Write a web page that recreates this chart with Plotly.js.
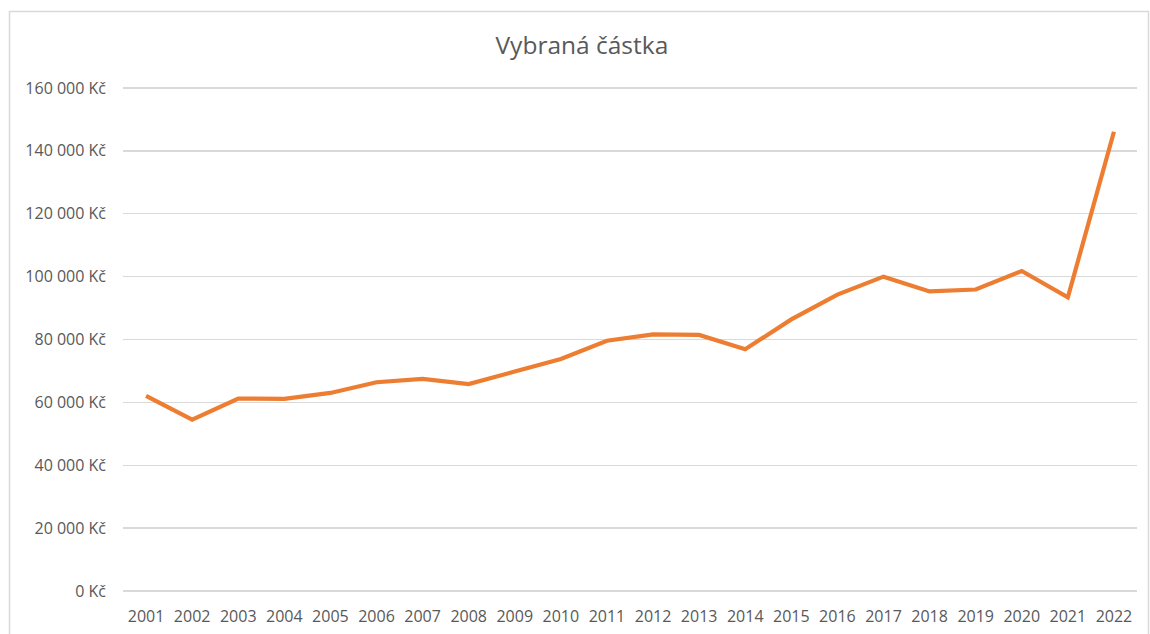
<!DOCTYPE html>
<html>
<head>
<meta charset="utf-8">
<script src="https://cdn.plot.ly/plotly-3.0.1.min.js"></script>
<style>
html,body{margin:0;padding:0;background:#fff;}
#chart{width:1150px;height:634px;}
</style>
</head>
<body>
<div id="chart"></div>
<script>
var years = ["2001","2002","2003","2004","2005","2006","2007","2008","2009","2010","2011","2012","2013","2014","2015","2016","2017","2018","2019","2020","2021","2022"];
var amounts = [62100,54500,61200,61100,63000,66400,67500,65800,69800,73800,79600,81600,81450,76900,86400,94300,100000,95300,95900,101800,93400,146100];
var yTickVals = [0,20000,40000,60000,80000,100000,120000,140000,160000];
var yTickText = ["0 Kč","20 000 Kč","40 000 Kč","60 000 Kč","80 000 Kč","100 000 Kč","120 000 Kč","140 000 Kč","160 000 Kč"];
var chartTitle = "Vybraná částka";

var W = 1150, H = 634;
var L = 123, R = 13, T = 85, B = 40;
var pw = W - L - R, ph = H - T - B;
// 0 -> y=591, 160000 -> y=88 ; pad range so edge gridlines are drawn
var pxPerUnit = 503 / 160000;
var yMin = -(B === 40 ? 3 : 0) / pxPerUnit;
var yMax = 160000 + 3 / pxPerUnit;

var trace = {
  x: years,
  y: amounts,
  type: 'scatter',
  mode: 'lines',
  line: {color: '#ED7D31', width: 4.2},
  hoverinfo: 'x+y'
};

var layout = {
  width: W, height: H,
  margin: {l: L, r: R, t: T, b: B},
  paper_bgcolor: '#ffffff',
  plot_bgcolor: '#ffffff',
  showlegend: false,
  font: {family: 'Open Sans, sans-serif', color: '#595959'},
  title: {
    text: chartTitle,
    font: {family: 'Open Sans, sans-serif', size: 24.5, color: '#595959'},
    x: 0.506, xanchor: 'center',
    y: 1 - 45/H, yanchor: 'middle'
  },
  xaxis: {
    type: 'category',
    range: [-0.5, years.length - 0.5],
    showgrid: false,
    zeroline: false,
    showline: false,
    ticks: '',
    tickfont: {family: 'Open Sans, sans-serif', size: 16, color: '#595959'},
    ticklabelstandoff: 11
  },
  yaxis: {
    range: [yMin, yMax],
    tickvals: yTickVals,
    ticktext: yTickText,
    showgrid: true,
    gridcolor: '#d9d9d9',
    gridwidth: 1.3,
    zeroline: false,
    showline: false,
    ticks: '',
    tickfont: {family: 'Open Sans, sans-serif', size: 16, color: '#595959'},
    ticklabelstandoff: 16
  },
  shapes: [{
    type: 'rect',
    xref: 'paper', yref: 'paper',
    x0: (9.5 - L)/pw, x1: (1148.5 - L)/pw,
    y0: -(660 - (H - B))/ph,
    y1: (H - B - 11.5)/ph,
    line: {color: '#d9d9d9', width: 1.5},
    fillcolor: 'rgba(0,0,0,0)',
    layer: 'below'
  }]
};

Plotly.newPlot('chart', [trace], layout, {displayModeBar: false, staticPlot: true});
</script>
</body>
</html>
